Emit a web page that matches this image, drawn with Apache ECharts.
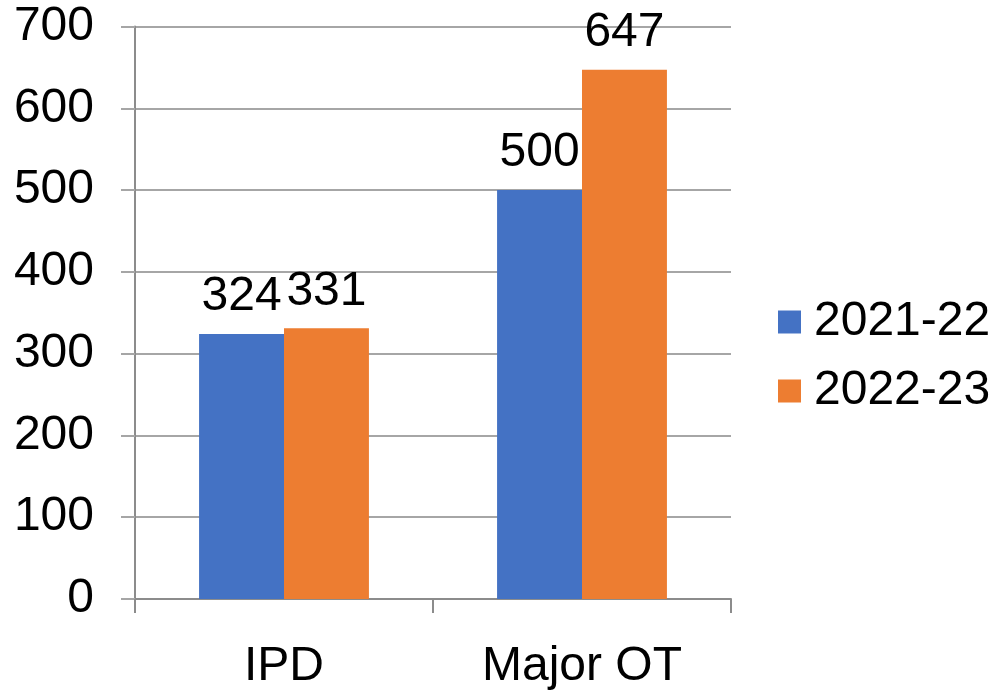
<!DOCTYPE html>
<html>
<head>
<meta charset="utf-8">
<script src="https://cdn.jsdelivr.net/npm/echarts@6/dist/echarts.min.js"></script>
<style>
  html, body { margin: 0; padding: 0; background: #fff; }
  #chart { width: 997px; height: 697px; }
</style>
</head>
<body>
<div id="chart"></div>
<script>
// data
const categories = ['IPD', 'Major OT'];
const seriesNames = ['2021-22', '2022-23'];
const values2122 = [324, 500];
const values2223 = [331, 647];
const colors = ['#4472C4', '#ED7D31'];

const font = 'Liberation Sans, Arial, sans-serif';
const fontSize = 48;
const gridColor = '#A6A6A6';
const axisColor = '#8C8C8C';

const chart = echarts.init(document.getElementById('chart'));

function barSeries(name, data, color) {
  return {
    name: name,
    type: 'bar',
    data: data,
    barGap: 0,
    barCategoryGap: '43%',
    itemStyle: { color: color },
    label: {
      show: true,
      position: 'top',
      distance: 13,
      color: '#000',
      fontFamily: font,
      fontSize: fontSize
    }
  };
}

const option = {
  animation: false,
  color: colors,
  grid: { left: 135, right: 266, top: 26.5, bottom: 98 },
  legend: {
    orient: 'vertical',
    left: 778,
    top: 298,
    padding: 0,
    itemWidth: 23,
    itemHeight: 23,
    itemGap: 21,
    icon: 'rect',
    data: seriesNames,
    textStyle: { color: '#000', fontFamily: font, fontSize: fontSize, padding: [0, 0, 0, 8] }
  },
  xAxis: {
    type: 'category',
    data: categories,
    axisLine: { lineStyle: { color: axisColor, width: 2 } },
    axisTick: { show: true, length: 14, lineStyle: { color: axisColor, width: 2 } },
    axisLabel: { color: '#000', fontFamily: font, fontSize: fontSize, margin: 44 }
  },
  yAxis: {
    type: 'value',
    min: 0,
    max: 700,
    interval: 100,
    axisLine: { show: true, lineStyle: { color: axisColor, width: 2 } },
    axisTick: { show: true, length: 14, lineStyle: { color: gridColor, width: 2 } },
    splitLine: { lineStyle: { color: gridColor, width: 2 } },
    axisLabel: { color: '#000', fontFamily: font, fontSize: fontSize, margin: 41 }
  },
  series: [
    barSeries(seriesNames[0], values2122, colors[0]),
    barSeries(seriesNames[1], values2223, colors[1])
  ]
};

chart.setOption(option);
</script>
</body>
</html>
